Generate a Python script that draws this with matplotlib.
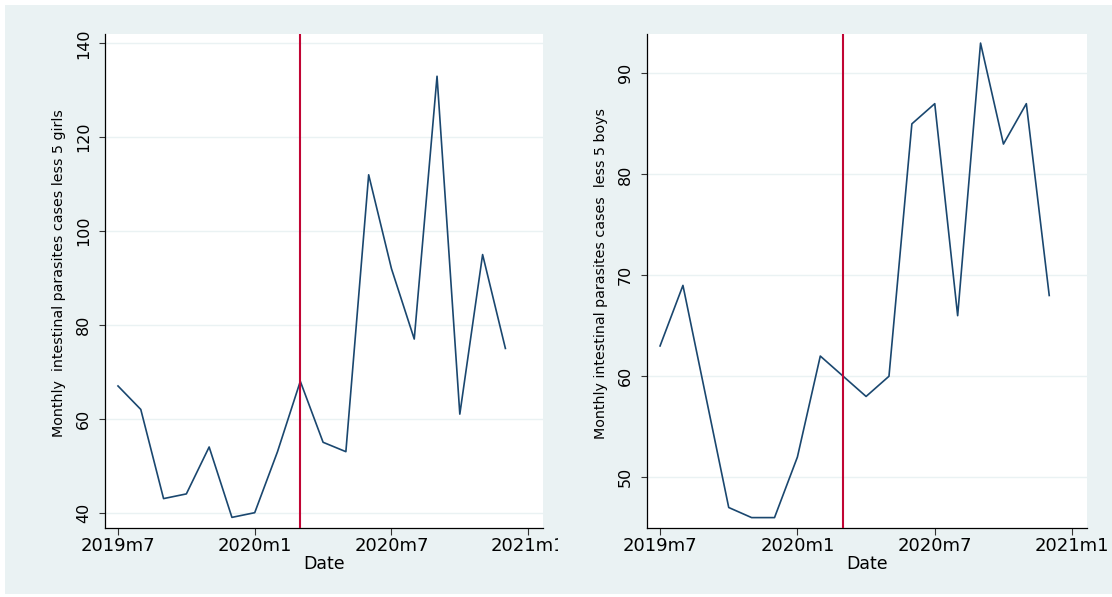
"""Monthly intestinal parasite cases among under-5 girls and boys (two panels)."""

import matplotlib
matplotlib.use("Agg")
import matplotlib.pyplot as plt
from matplotlib.patches import Rectangle

# ---- data ------------------------------------------------------------------
months = [
    "2019m7", "2019m8", "2019m9", "2019m10", "2019m11", "2019m12",
    "2020m1", "2020m2", "2020m3", "2020m4", "2020m5", "2020m6",
    "2020m7", "2020m8", "2020m9", "2020m10", "2020m11", "2020m12",
]
girls = [67, 62, 43, 44, 54, 39, 40, 53, 68, 55, 53, 112, 92, 77, 133, 61, 95, 75]
boys = [63, 69, 58, 47, 46, 46, 52, 62, 60, 58, 60, 85, 87, 66, 93, 83, 87, 68]

xtick_labels = ["2019m7", "2020m1", "2020m7", "2021m1"]
intervention = "2020m3"

girls_yticks = [40, 60, 80, 100, 120, 140]
boys_yticks = [50, 60, 70, 80, 90]

girls_ylabel = "Monthly  intestinal parasites cases less 5 girls"
boys_ylabel = "Monthly intestinal parasites cases  less 5 boys"


def stata_month(label):
    # Stata %tm: 1960m1 == 0
    y, m = label.split("m")
    return (int(y) - 1960) * 12 + int(m) - 1


x = [stata_month(s) for s in months]
xt = [stata_month(s) for s in xtick_labels]

# ---- styling ----------------------------------------------------------------
BG = "#eaf2f3"
NAVY = "#1a476f"
RED = "#c10534"
W, H = 1112, 597

fig = plt.figure(figsize=(W / 100, H / 100), dpi=100, facecolor="white")
fig.patches.append(
    Rectangle((5 / W, 3 / H), 1 - 5 / W, 1 - 8 / H,
              transform=fig.transFigure, facecolor=BG, edgecolor="none", zorder=-10)
)


def panel(rect, y, yticks, ylim, ylabel):
    ax = fig.add_axes(rect)
    ax.set_facecolor("white")
    ax.plot(x, y, color=NAVY, lw=1.2, zorder=3)
    ax.axvline(stata_month(intervention), color=RED, lw=1.5, zorder=4)

    ax.set_xlim(713.43, 732.65)
    ax.set_ylim(*ylim)
    ax.set_xticks(xt, xtick_labels)
    ax.set_yticks(yticks)
    ax.grid(axis="y", color=BG, lw=1.0, zorder=0)
    ax.set_axisbelow(True)

    for side in ("top", "right"):
        ax.spines[side].set_visible(False)
    for side in ("left", "bottom"):
        ax.spines[side].set_color("black")
        ax.spines[side].set_linewidth(0.9)

    ax.tick_params(axis="x", length=5, width=0.8, color="#333333", pad=2,
                   labelsize=13, labelcolor="black")
    ax.tick_params(axis="y", length=4, width=0.8, color="#333333", pad=6,
                   labelsize=11.5, labelcolor="black", labelrotation=90)
    for lab in ax.get_yticklabels():
        lab.set_va("center")

    ax.set_xlabel("Date", fontsize=12.5, labelpad=0)
    ax.set_ylabel(ylabel, fontsize=10.3)
    ax.yaxis.set_label_coords(-0.089, 0.515)
    return ax


bottom = 1 - 527.7 / H
height = (527.7 - 34) / H
panel([105 / W, bottom, 438 / W, height], girls, girls_yticks, (36.8, 142.0),
      girls_ylabel)
panel([647 / W, bottom, 440 / W, height], boys, boys_yticks, (45.0, 93.9),
      boys_ylabel)

# the two panels were separate graphs: the left one's last tick label is cut
# at its right border, so mask what runs past it
fig.patches.append(
    Rectangle((558 / W, 1 - 556 / H), 22 / W, 24 / H,
              transform=fig.transFigure, facecolor=BG, edgecolor="none", zorder=10)
)

fig.savefig("out.png", dpi=100, facecolor=fig.get_facecolor())
